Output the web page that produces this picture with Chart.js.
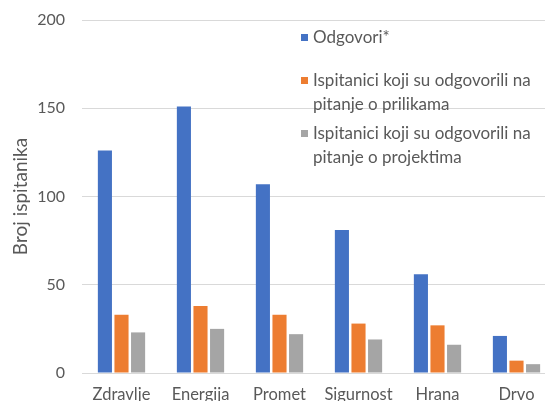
<!DOCTYPE html>
<html>
<head>
<meta charset="utf-8">
<script src="https://cdn.jsdelivr.net/npm/chart.js@4/dist/chart.umd.min.js"></script>
<style>
  html, body { margin: 0; padding: 0; background: #fff; overflow: hidden; width: 545px; height: 401px; }
  #wrap { position: absolute; left: 0; top: 0; width: 560px; height: 401px; }
  #legend { position: absolute; left: 300px; top: 0; font-family: Lato, sans-serif; font-size: 17px; color: #595959; }
  .item { position: absolute; left: 0; white-space: nowrap; }
  .sw { position: absolute; left: 1px; width: 7px; height: 7px; }
  .txt { position: absolute; left: 13px; line-height: 24px; }
</style>
</head>
<body>
<div id="wrap"><canvas id="c" width="560" height="401"></canvas></div>
<div id="legend"></div>
<script>
const categories = ["Zdravlje", "Energija", "Promet", "Sigurnost", "Hrana", "Drvo"];
const seriesNames = ["Odgovori*", "Ispitanici koji su odgovorili na pitanje o prilikama", "Ispitanici koji su odgovorili na pitanje o projektima"];
const odgovori = [126, 151, 107, 81, 56, 21];
const prilike = [33, 38, 33, 28, 27, 7];
const projekti = [23, 25, 22, 19, 16, 5];
const yTicks = [0, 50, 100, 150, 200];
const axisTitle = "Broj ispitanika";
const colors = ["#4472C4", "#ED7D31", "#A5A5A5"];
const legendLines = [["Odgovori*"], ["Ispitanici koji su odgovorili na", "pitanje o prilikama"], ["Ispitanici koji su odgovorili na", "pitanje o projektima"]];
const legendTops = [25, 68, 121];

const ds = [odgovori, prilike, projekti].map((d, i) => ({
  label: seriesNames[i], data: d, backgroundColor: colors[i],
  categoryPercentage: 0.63, barPercentage: 0.85
}));

new Chart(document.getElementById('c'), {
  type: 'bar',
  data: { labels: categories, datasets: ds },
  options: {
    responsive: false, animation: false,
    layout: { padding: { top: 20, right: 4, left: 0, bottom: 0 } },
    plugins: { legend: { display: false }, tooltip: { enabled: false } },
    scales: {
      x: {
        grid: { display: false, drawTicks: false },
        border: { display: false },
        ticks: { color: '#595959', font: { family: 'Lato', size: 16.5 }, padding: 12, maxRotation: 0, autoSkip: false },
        afterFit: s => { s.height = 28; s.paddingLeft = 0; s.paddingRight = 0; }
      },
      y: {
        min: 0, max: 200,
        afterBuildTicks: s => { s.ticks = yTicks.map(v => ({ value: v })); },
        grid: { color: '#D9D9D9', lineWidth: 1, drawTicks: false },
        border: { display: false },
        ticks: { color: '#595959', font: { family: 'Lato', size: 16 }, padding: 17 },
        title: { display: true, text: axisTitle, color: '#595959', font: { family: 'Lato', size: 19 }, padding: { top: 9, bottom: 0 } },
        afterFit: s => { s.width = 82; s.paddingTop = 0; s.paddingBottom = 0; }
      }
    }
  }
});

const lg = document.getElementById('legend');
legendLines.forEach((lines, i) => {
  const it = document.createElement('div');
  it.className = 'item';
  it.style.top = legendTops[i] + 'px';
  const sw = document.createElement('div');
  sw.className = 'sw'; sw.style.background = colors[i]; sw.style.top = '9px';
  const tx = document.createElement('div');
  tx.className = 'txt';
  tx.innerHTML = lines.join('<br>');
  it.appendChild(sw); it.appendChild(tx);
  lg.appendChild(it);
});
</script>
</body>
</html>
